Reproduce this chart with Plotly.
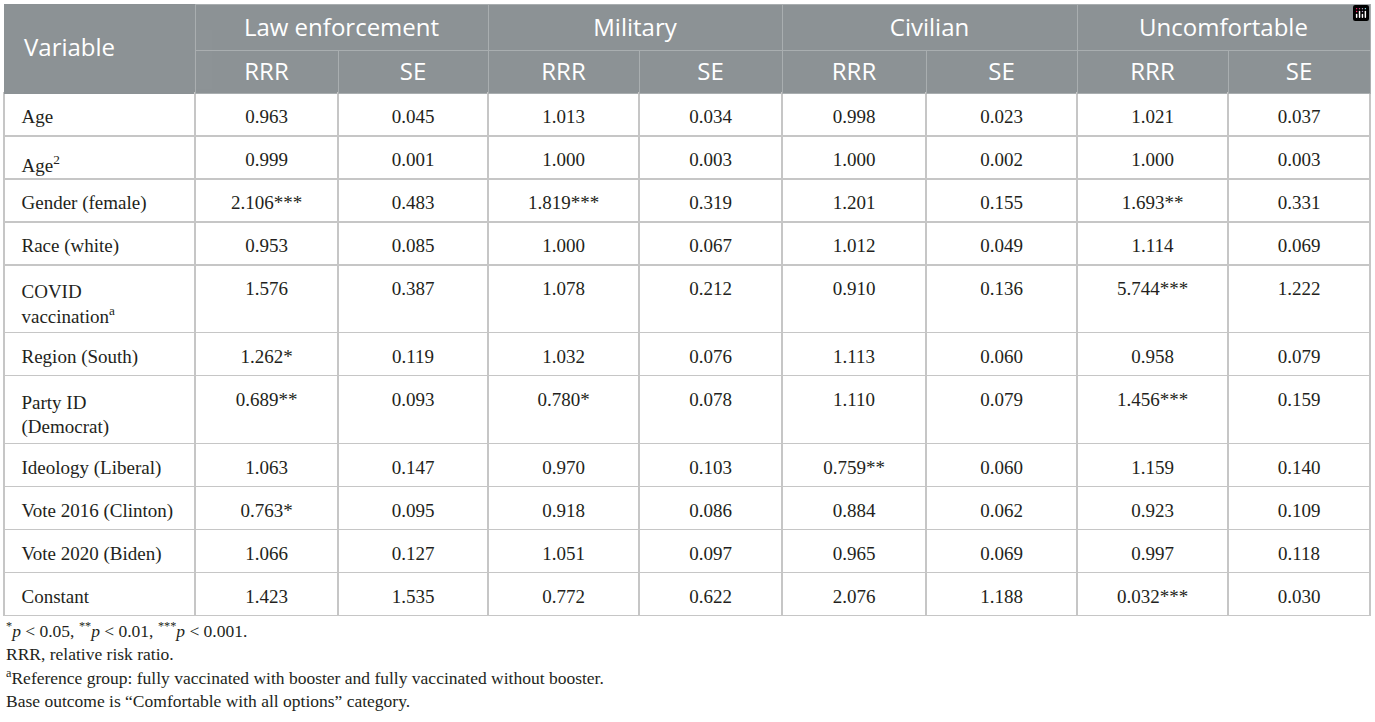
import plotly.graph_objects as go

# ---------------- data ----------------
variables = ["Age", "Age<sup>2</sup>", "Gender (female)", "Race (white)",
             "COVID<br>vaccination<sup>a</sup>", "Region (South)",
             "Party ID<br>(Democrat)", "Ideology (Liberal)",
             "Vote 2016 (Clinton)", "Vote 2020 (Biden)", "Constant"]

first_header = "Variable"
groups = ["Law enforcement", "Military", "Civilian", "Uncomfortable"]
sub_labels = ["RRR", "SE"]

law_rrr = [0.963, 0.999, 2.106, 0.953, 1.576, 1.262, 0.689, 1.063, 0.763, 1.066, 1.423]
law_stars = [0, 0, 3, 0, 0, 1, 2, 0, 1, 0, 0]
law_se = [0.045, 0.001, 0.483, 0.085, 0.387, 0.119, 0.093, 0.147, 0.095, 0.127, 1.535]

mil_rrr = [1.013, 1.000, 1.819, 1.000, 1.078, 1.032, 0.780, 0.970, 0.918, 1.051, 0.772]
mil_stars = [0, 0, 3, 0, 0, 0, 1, 0, 0, 0, 0]
mil_se = [0.034, 0.003, 0.319, 0.067, 0.212, 0.076, 0.078, 0.103, 0.086, 0.097, 0.622]

civ_rrr = [0.998, 1.000, 1.201, 1.012, 0.910, 1.113, 1.110, 0.759, 0.884, 0.965, 2.076]
civ_stars = [0, 0, 0, 0, 0, 0, 0, 2, 0, 0, 0]
civ_se = [0.023, 0.002, 0.155, 0.049, 0.136, 0.060, 0.079, 0.060, 0.062, 0.069, 1.188]

unc_rrr = [1.021, 1.000, 1.693, 1.114, 5.744, 0.958, 1.456, 1.159, 0.923, 0.997, 0.032]
unc_stars = [0, 0, 2, 0, 3, 0, 3, 0, 0, 0, 3]
unc_se = [0.037, 0.003, 0.331, 0.069, 1.222, 0.079, 0.159, 0.140, 0.109, 0.118, 0.030]

footnotes = [
    "<sup>*</sup><i>p</i> &lt; 0.05, <sup>**</sup><i>p</i> &lt; 0.01, <sup>***</sup><i>p</i> &lt; 0.001.",
    "RRR, relative risk ratio.",
    "<sup>a</sup>Reference group: fully vaccinated with booster and fully vaccinated without booster.",
    "Base outcome is \u201cComfortable with all options\u201d category.",
]

# ---------------- layout constants ----------------
W, H = 1375, 722
col_px = [191, 143, 150, 151, 143, 144, 151, 151, 142]
group_px = [col_px[0]] + [col_px[i] + col_px[i + 1] for i in range(1, 9, 2)]
LEFT, RIGHT = 4, 1370
TOP, ROW1_H, ROW2_H, CELL_H = 4, 46, 43, 43
SHIFT_TOP, SHIFT_SUB, SHIFT_BODY, SHIFT_VAR = 6, 4, 8, 26

HEADER_FILL = "#8c9295"
HEADER_LINE = "#a9aeb0"
BODY_LINE = "#c6c6c6"
TEXT = "#231f20"
CLEAR = "rgba(0,0,0,0)"
SANS = "Open Sans, Noto Sans, sans-serif"
SERIF = "Liberation Serif, DejaVu Serif, serif"
HEAD_SIZE, BODY_SIZE, NOTE_SIZE = 24, 19, 17.5
NBSP = "\u00a0"


def fx(px):
    return px / W


def fy(px):
    return 1 - px / H


def fmt(vals, stars=None):
    stars = stars or [0] * len(vals)
    return [f"{v:.3f}" + "*" * s for v, s in zip(vals, stars)]


indent = "\u2002"
spacer = "<span style='font-size:44px'>\u00a0</span>"


def label(v):
    lines = [indent + ln for ln in v.split("<br>")]
    if len(lines) > 1:
        lines[-1] += spacer
    return "<br>".join(lines)


def sizing(v):
    """blank text with the same line structure as a label (sets row height)"""
    n = len(v.split("<br>"))
    return "<br>".join([NBSP] * n) + spacer if n > 1 else NBSP


columns = [[label(v) for v in variables],
           fmt(law_rrr, law_stars), fmt(law_se),
           fmt(mil_rrr, mil_stars), fmt(mil_se),
           fmt(civ_rrr, civ_stars), fmt(civ_se),
           fmt(unc_rrr, unc_stars), fmt(unc_se)]
grid_columns = [[sizing(v) for v in variables]] + [[NBSP] * len(variables)] * 8
aligns = ["left"] + ["center"] * 8
head_font = dict(family=SANS, size=HEAD_SIZE, color="white")
body_font = dict(family=SERIF, size=BODY_SIZE, color=TEXT)
no_line = dict(color=CLEAR, width=0)

fig = go.Figure()

# ---- grid layer: fills and borders ----
fig.add_trace(go.Table(
    domain=dict(x=[fx(LEFT), fx(RIGHT)], y=[fy(TOP + ROW1_H + ROW2_H + 20), fy(TOP)]),
    columnwidth=group_px,
    header=dict(values=[""] * 5, height=ROW1_H, fill_color=HEADER_FILL,
                line=dict(color=[HEADER_FILL] + [HEADER_LINE] * 4, width=1),
                font=head_font),
    cells=dict(values=[[]] * 5),
))
fig.add_trace(go.Table(
    domain=dict(x=[fx(LEFT), fx(RIGHT)], y=[fy(640), fy(TOP + ROW1_H)]),
    columnwidth=col_px,
    header=dict(values=[""] * 9, height=ROW2_H, fill_color=HEADER_FILL,
                line=dict(color=[HEADER_FILL] + [HEADER_LINE] * 8, width=1),
                font=head_font),
    cells=dict(values=grid_columns, height=CELL_H, fill_color="white",
               line=dict(color=BODY_LINE, width=1.5), align=aligns, font=body_font),
))

# ---- text layer: transparent tables, nudged to the vertical middle of the cells ----
fig.add_trace(go.Table(
    domain=dict(x=[fx(LEFT), fx(RIGHT)],
                y=[fy(TOP + ROW1_H + ROW2_H + 20 + SHIFT_TOP), fy(TOP + SHIFT_TOP)]),
    columnwidth=group_px,
    header=dict(values=[""] + groups, height=ROW1_H, fill_color=CLEAR, line=no_line,
                align="center", font=head_font),
    cells=dict(values=[[]] * 5),
))
fig.add_trace(go.Table(
    domain=dict(x=[fx(LEFT), fx(RIGHT)],
                y=[fy(TOP + ROW1_H + ROW2_H + 20 + SHIFT_SUB), fy(TOP + ROW1_H + SHIFT_SUB)]),
    columnwidth=col_px,
    header=dict(values=[""] + sub_labels * 4, height=ROW2_H, fill_color=CLEAR,
                line=no_line, align="center", font=head_font),
    cells=dict(values=[[]] * 9),
))
fig.add_trace(go.Table(
    domain=dict(x=[fx(LEFT), fx(RIGHT)], y=[fy(655), fy(TOP + ROW1_H + SHIFT_BODY)]),
    columnwidth=col_px,
    header=dict(values=[""] * 9, height=ROW2_H, fill_color=CLEAR, line=no_line),
    cells=dict(values=columns, height=CELL_H, fill_color=CLEAR, line=no_line,
               align=aligns, font=body_font),
))
# "Variable" label spanning both header rows
fig.add_trace(go.Table(
    domain=dict(x=[fx(LEFT), fx(LEFT + col_px[0])],
                y=[fy(TOP + SHIFT_VAR + 60), fy(TOP + SHIFT_VAR)]),
    header=dict(values=[indent + first_header], height=30, fill_color=CLEAR,
                line=no_line, align="left", font=head_font),
    cells=dict(values=[[]]),
))

for i, t in enumerate(footnotes):
    fig.add_annotation(x=fx(LEFT), y=fy(630 + 23.7 * i), xref="paper", yref="paper",
                       xanchor="left", yanchor="middle", showarrow=False, text=t,
                       font=dict(family=SERIF, size=NOTE_SIZE, color=TEXT), align="left")

fig.update_layout(width=W, height=H, margin=dict(l=0, r=0, t=0, b=0),
                  paper_bgcolor="white", plot_bgcolor="white",
                  modebar=dict(bgcolor=CLEAR, color=CLEAR, activecolor=CLEAR))

fig.write_html("out.html", post_script="document.body.style.margin='0px';")
